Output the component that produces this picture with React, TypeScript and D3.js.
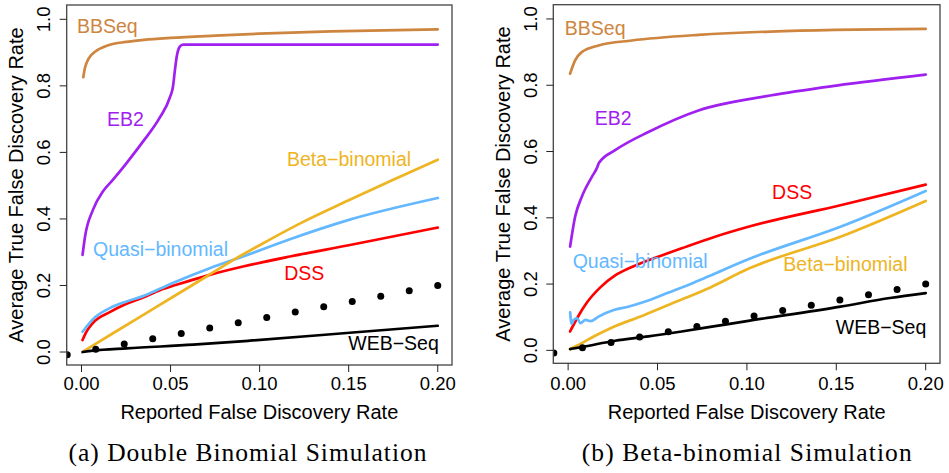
import React, { useEffect, useRef } from "react";
import * as d3 from "d3";

type Pt = [number, number];

// dotted reference: true FDR equal to the reported one
const refX = [-0.008, 0.008, 0.024, 0.04, 0.056, 0.072, 0.088, 0.104, 0.12, 0.136, 0.152, 0.168, 0.184, 0.2];
const refY = [-0.008, 0.008, 0.024, 0.04, 0.056, 0.072, 0.088, 0.104, 0.12, 0.136, 0.152, 0.168, 0.184, 0.2];

const xTicks = [0, 0.05, 0.1, 0.15, 0.2];
const xTickLabels = ["0.00", "0.05", "0.10", "0.15", "0.20"];
const yTicks = [0, 0.2, 0.4, 0.6, 0.8, 1.0];
const yTickLabels = ["0.0", "0.2", "0.4", "0.6", "0.8", "1.0"];

const methods = ["BBSeq", "EB2", "DSS", "Quasi\u2212binomial", "Beta\u2212binomial", "WEB\u2212Seq"];
const colors = ["#CD853F", "#A020F0", "#FF0000", "#63B8FF", "#EEB422", "#000000"];

// (a) double binomial simulation
const dbBBSeq: Pt[] = [[0.001, 0.826], [0.002, 0.855], [0.004, 0.882], [0.008, 0.904], [0.015, 0.922], [0.025, 0.932], [0.035, 0.938], [0.05, 0.944], [0.075, 0.951], [0.1, 0.957], [0.14, 0.964], [0.2, 0.97]];
const dbEB2: Pt[] = [[0.0006, 0.292], [0.002, 0.347], [0.0065, 0.428], [0.0121, 0.483], [0.0177, 0.518], [0.0253, 0.568], [0.0346, 0.633], [0.044, 0.705], [0.0496, 0.765], [0.0514, 0.799], [0.0524, 0.845], [0.0535, 0.889], [0.0552, 0.918], [0.057, 0.924], [0.1, 0.924], [0.2, 0.924]];
const dbDSS: Pt[] = [[0.0006, 0.036], [0.0028, 0.061], [0.0065, 0.088], [0.0159, 0.12], [0.0253, 0.145], [0.0346, 0.164], [0.044, 0.186], [0.0533, 0.202], [0.072, 0.232], [0.0907, 0.257], [0.117, 0.287], [0.15, 0.321], [0.2, 0.374]];
const dbQuasi: Pt[] = [[0.0006, 0.061], [0.0028, 0.076], [0.0065, 0.099], [0.0159, 0.132], [0.0253, 0.152], [0.0346, 0.168], [0.044, 0.19], [0.0533, 0.212], [0.072, 0.252], [0.0907, 0.287], [0.117, 0.339], [0.1506, 0.398], [0.2, 0.463]];
const dbBeta: Pt[] = [[0.001, 0.002], [0.02, 0.064], [0.04, 0.129], [0.0702, 0.227], [0.087, 0.282], [0.1, 0.321], [0.1225, 0.386], [0.15, 0.456], [0.175, 0.518], [0.2, 0.578]];
const dbWEB: Pt[] = [[0.0006, 0.0], [0.0065, 0.004], [0.0253, 0.011], [0.0627, 0.022], [0.0945, 0.034], [0.1506, 0.058], [0.2, 0.079]];
const dbLabels: Pt[] = [[0.0145, 0.98], [0.0247, 0.701], [0.1251, 0.238], [0.0444, 0.31], [0.1502, 0.581], [0.1752, 0.026]];

// (b) beta-binomial simulation
const bbBBSeq: Pt[] = [[0.0011, 0.835], [0.0039, 0.875], [0.0076, 0.9], [0.017, 0.92], [0.0356, 0.935], [0.0729, 0.952], [0.113, 0.962], [0.2, 0.97]];
const bbEB2: Pt[] = [[0.0011, 0.313], [0.0039, 0.403], [0.0076, 0.463], [0.0132, 0.523], [0.016, 0.549], [0.0173, 0.566], [0.0263, 0.604], [0.0449, 0.659], [0.0729, 0.724], [0.113, 0.769], [0.15, 0.799], [0.2, 0.832]];
const bbDSS: Pt[] = [[0.0011, 0.057], [0.005, 0.097], [0.0106, 0.145], [0.018, 0.19], [0.0263, 0.226], [0.035, 0.25], [0.0449, 0.272], [0.0516, 0.285], [0.0635, 0.308], [0.0822, 0.343], [0.1008, 0.373], [0.1523, 0.438], [0.2, 0.5]];
const bbQuasi: Pt[] = [[0.0011, 0.115], [0.002, 0.08], [0.0031, 0.092], [0.005, 0.097], [0.0069, 0.082], [0.0097, 0.092], [0.0125, 0.088], [0.017, 0.102], [0.0255, 0.122], [0.033, 0.131], [0.0423, 0.146], [0.0554, 0.173], [0.0702, 0.204], [0.0822, 0.232], [0.1008, 0.275], [0.1076, 0.289], [0.1523, 0.373], [0.2, 0.481]];
const bbBeta: Pt[] = [[0.0011, 0.004], [0.0076, 0.022], [0.0143, 0.042], [0.0237, 0.067], [0.0423, 0.106], [0.061, 0.148], [0.0796, 0.19], [0.1008, 0.246], [0.1076, 0.261], [0.1523, 0.343], [0.2, 0.451]];
const bbWEB: Pt[] = [[0.0011, 0.004], [0.0076, 0.01], [0.0263, 0.029], [0.0449, 0.042], [0.0635, 0.057], [0.0822, 0.073], [0.1008, 0.089], [0.1523, 0.132], [0.18, 0.158], [0.2, 0.173]];
const bbLabels: Pt[] = [[0.0151, 0.974], [0.0252, 0.702], [0.1253, 0.477], [0.0403, 0.269], [0.1551, 0.26], [0.175, 0.071]];

const SANS = "'Liberation Sans', Arial, Helvetica, sans-serif";
const SERIF = "'Liberation Serif', 'Times New Roman', serif";

const panels = [
  {
    id: "a",
    series: [dbBBSeq, dbEB2, dbDSS, dbQuasi, dbBeta, dbWEB],
    labels: dbLabels,
    caption: "(a) Double Binomial Simulation",
    box: { l: 66.7, t: 5, r: 452, b: 365 },
    capX: 247.5,
    capW: 358,
  },
  {
    id: "b",
    series: [bbBBSeq, bbEB2, bbDSS, bbQuasi, bbBeta, bbWEB],
    labels: bbLabels,
    caption: "(b) Beta-binomial Simulation",
    box: { l: 553.3, t: 4.7, r: 940, b: 363.3 },
    capX: 746.7,
    capW: 330,
  },
];

export default function App() {
  const ref = useRef<SVGSVGElement>(null);

  useEffect(() => {
    const node = ref.current;
    if (!node) return;
    const svg = d3.select(node);
    svg.selectAll("*").remove();

    panels.forEach(p => {
      const { l, t, r, b } = p.box;
      const x = d3.scaleLinear().domain([-0.0083, 0.208]).range([l, r]);
      const y = d3.scaleLinear().domain([-0.039, 1.043]).range([b, t]);
      const g = svg.append("g");

      g.append("clipPath")
        .attr("id", `clip-${p.id}`)
        .append("rect")
        .attr("x", l).attr("y", t)
        .attr("width", r - l).attr("height", b - t);

      const plot = g.append("g").attr("clip-path", `url(#clip-${p.id})`);

      const line = d3.line<Pt>()
        .x(d => x(d[0]))
        .y(d => y(d[1]))
        .curve(d3.curveMonotoneX);

      p.series.forEach((s, i) => {
        plot.append("path")
          .attr("d", line(s))
          .attr("fill", "none")
          .attr("stroke", colors[i])
          .attr("stroke-width", 2.7)
          .attr("stroke-linejoin", "round")
          .attr("stroke-linecap", "round");
      });

      plot.selectAll("circle.ref")
        .data(refX)
        .enter()
        .append("circle")
        .attr("class", "ref")
        .attr("cx", d => x(d))
        .attr("cy", (d, i) => y(refY[i]))
        .attr("r", 3.5)
        .attr("fill", "#000");

      // method labels
      p.labels.forEach((d, i) => {
        g.append("text")
          .attr("x", x(d[0]))
          .attr("y", y(d[1]))
          .attr("text-anchor", "middle")
          .attr("dominant-baseline", "central")
          .attr("font-family", SANS)
          .attr("font-size", 19.5)
          .attr("fill", colors[i])
          .text(methods[i]);
      });

      // frame
      g.append("rect")
        .attr("x", l).attr("y", t)
        .attr("width", r - l).attr("height", b - t)
        .attr("fill", "none")
        .attr("stroke", "#444")
        .attr("stroke-width", 1.3);

      // x axis
      const xa = g.append("g");
      xa.selectAll("line")
        .data(xTicks)
        .enter()
        .append("line")
        .attr("x1", d => x(d)).attr("x2", d => x(d))
        .attr("y1", b).attr("y2", b + 7)
        .attr("stroke", "#222");
      xa.selectAll("text")
        .data(xTicks)
        .enter()
        .append("text")
        .attr("x", d => x(d))
        .attr("y", 390)
        .attr("text-anchor", "middle")
        .attr("font-family", SANS)
        .attr("font-size", 18.5)
        .text((d, i) => xTickLabels[i]);

      // y axis
      const ya = g.append("g");
      ya.selectAll("line")
        .data(yTicks)
        .enter()
        .append("line")
        .attr("x1", l - 7).attr("x2", l)
        .attr("y1", d => y(d)).attr("y2", d => y(d))
        .attr("stroke", "#222");
      ya.selectAll("text")
        .data(yTicks)
        .enter()
        .append("text")
        .attr("transform", d => `translate(${l - 16.7},${y(d)}) rotate(-90)`)
        .attr("text-anchor", "middle")
        .attr("font-family", SANS)
        .attr("font-size", 18.5)
        .text((d, i) => yTickLabels[i]);

      // axis titles
      g.append("text")
        .attr("x", (l + r) / 2)
        .attr("y", 419)
        .attr("text-anchor", "middle")
        .attr("font-family", SANS)
        .attr("font-size", 20)
        .text("Reported False Discovery Rate");

      g.append("text")
        .attr("transform", `translate(${l - 43.7},${(t + b) / 2}) rotate(-90)`)
        .attr("text-anchor", "middle")
        .attr("font-family", SANS)
        .attr("font-size", 20)
        .text("Average True False Discovery Rate");

      // caption
      g.append("text")
        .attr("x", p.capX)
        .attr("y", 461)
        .attr("text-anchor", "middle")
        .attr("font-family", SERIF)
        .attr("font-size", 25.5)
        .attr("textLength", p.capW)
        .attr("lengthAdjust", "spacing")
        .text(p.caption);
    });
  }, []);

  return (
    <svg
      ref={ref}
      width={949}
      height={473}
      style={{ position: "absolute", left: 0, top: 0, background: "#fff" }}
    />
  );
}
